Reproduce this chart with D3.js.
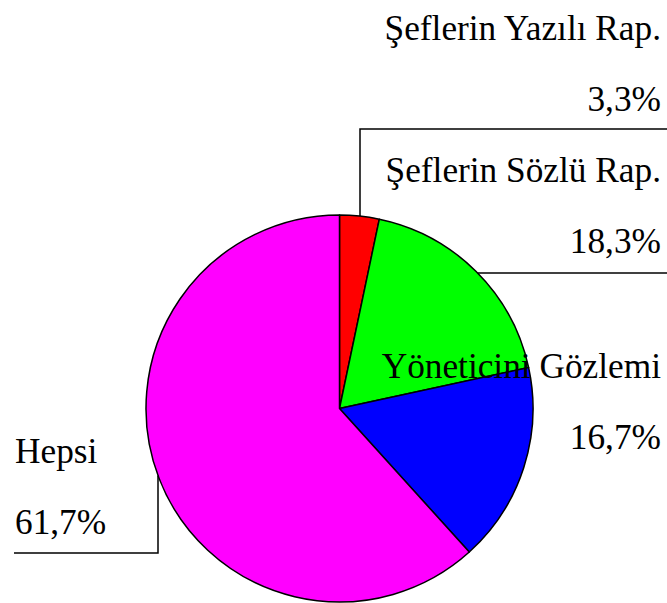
<!DOCTYPE html>
<html>
<head>
<meta charset="utf-8">
<script src="https://cdn.jsdelivr.net/npm/d3@7"></script>
<style>
  body { margin: 0; background: #fff; }
  svg text { font-family: "Liberation Serif", "Times New Roman", serif; fill: #000; }
</style>
</head>
<body>
<svg id="chart" width="667" height="603"></svg>
<script>
// slices, clockwise from 12 o'clock
var categories = ['Şeflerin Yazılı Rap.', 'Şeflerin Sözlü Rap.', 'Yöneticini Gözlemi', 'Hepsi'];
var values = [3.3, 18.3, 16.7, 61.7];
var percentLabels = ['3,3%', '18,3%', '16,7%', '61,7%'];
var colors = ['#ff0000', '#00ff00', '#0000ff', '#ff00ff'];

var cx = 339.5, cy = 408.5, r = 193.5;
var fontSize = 35.3;

// label placement: [x, nameBaseline, anchor]
var labelPos = [
  [661, 40, 'end'],
  [661, 182, 'end'],
  [661, 378, 'end'],
  [15, 463, 'start']
];

var svg = d3.select('#chart');

var pie = d3.pie().sort(null).value(function(d){ return d; });
var arcs = pie(values);
var arc = d3.arc().innerRadius(0).outerRadius(r);

var g = svg.append('g').attr('transform', 'translate(' + cx + ',' + cy + ')');

g.selectAll('path')
  .data(arcs)
  .enter()
  .append('path')
  .attr('d', arc)
  .attr('fill', function(d, i){ return colors[i]; })
  .attr('stroke', '#000')
  .attr('stroke-width', 1.5)
  .attr('stroke-linejoin', 'round');

// leader lines, starting on the rim
function rimPointX(x, sign){ // y on circle for a given x
  var dx = x - cx;
  return cy + sign * Math.sqrt(r*r - dx*dx);
}
function rimPointY(y){ // x on the right side for a given y
  var dy = y - cy;
  return cx + Math.sqrt(r*r - dy*dy);
}

var leaders = [
  [[360, rimPointX(360, -1)], [360, 129], [667, 129]],
  [[rimPointY(273), 273], [667, 273]],
  null,
  [[158, rimPointX(158, 1)], [158, 553], [14, 553]]
];

var line = d3.line();
leaders.forEach(function(pts){
  if(!pts) return;
  svg.append('path')
    .attr('d', line(pts))
    .attr('fill', 'none')
    .attr('stroke', '#000')
    .attr('stroke-width', 1.5);
});

// labels
categories.forEach(function(name, i){
  var p = labelPos[i];
  svg.append('text')
    .attr('x', p[0]).attr('y', p[1])
    .attr('text-anchor', p[2])
    .style('font-size', fontSize + 'px')
    .text(name);
  svg.append('text')
    .attr('x', p[0]).attr('y', p[1] + 71)
    .attr('text-anchor', p[2])
    .style('font-size', fontSize + 'px')
    .text(percentLabels[i]);
});
</script>
</body>
</html>
